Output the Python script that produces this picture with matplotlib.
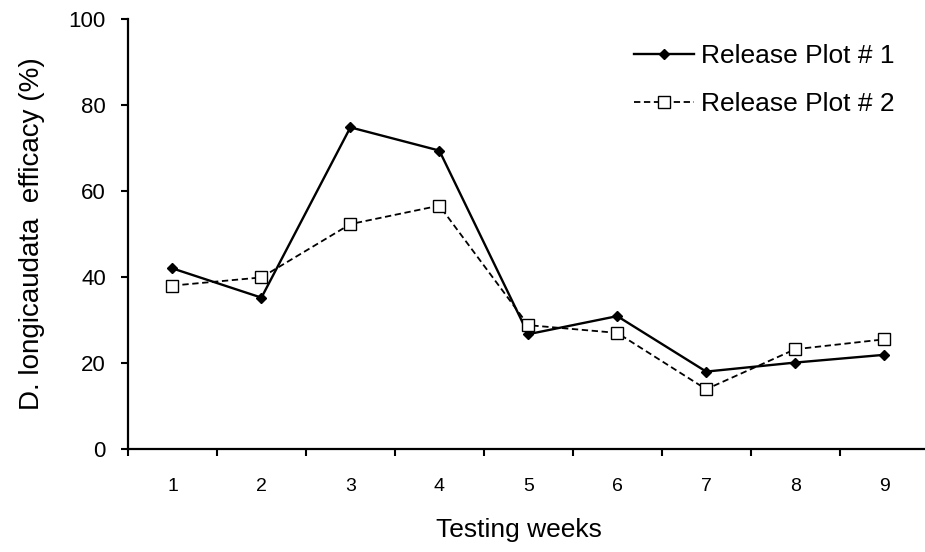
import numpy as np
import matplotlib.pyplot as plt
from matplotlib.ticker import FixedLocator

plt.rcParams['font.family'] = ['Liberation Sans', 'DejaVu Sans']

# data
weeks = [1, 2, 3, 4, 5, 6, 7, 8, 9]
plot1 = [42.0, 35.2, 74.8, 69.4, 26.7, 30.9, 18.0, 20.1, 21.9]
plot2 = [38.0, 39.9, 52.3, 56.6, 28.8, 27.0, 13.9, 23.2, 25.5]
labels = ["Release Plot # 1", "Release Plot # 2"]

fig = plt.figure(figsize=(9.25, 5.52), dpi=100)
ax = fig.add_axes([128/925, 1 - 449/552, 1 - 128/925, (449 - 19)/552])

ax.plot(weeks, plot1, color='black', lw=1.7, marker='D', ms=5.5,
        mfc='black', mec='black', label=labels[0], clip_on=False)
ax.plot(weeks, plot2, color='black', lw=1.3, ls=(0, (3.5, 2)), marker='s', ms=8,
        mfc='white', mec='black', mew=1.0, label=labels[1], clip_on=False)

ax.set_xlim(0.5, 9.46)
ax.set_ylim(0, 100)
ax.set_yticks(np.arange(0, 101, 20))
ax.set_xticks(weeks)
ax.xaxis.set_minor_locator(FixedLocator(np.arange(0.5, 9.0, 1.0)))
ax.tick_params(axis='x', which='major', length=0, pad=21, labelsize=14)
ax.tick_params(axis='x', which='minor', length=5, width=1.5, direction='out')
ax.tick_params(axis='y', length=5, width=1.5, direction='out', pad=11, labelsize=16)

for s in ['top', 'right']:
    ax.spines[s].set_visible(False)
for s in ['left', 'bottom']:
    ax.spines[s].set_linewidth(1.6)

ax.set_xlabel("Testing weeks", fontsize=19)
ax.xaxis.set_label_coords(0.49, -0.16)
ax.set_ylabel("D. longicaudata  efficacy (%)", fontsize=20)
ax.yaxis.set_label_coords(-0.104, 0.5)

ax.legend(loc='upper right', bbox_to_anchor=(0.99, 0.993), frameon=False,
          fontsize=19, handlelength=2.3, handletextpad=0.25, labelspacing=0.9,
          borderpad=0.35)

fig.savefig("out.png", dpi=100)
